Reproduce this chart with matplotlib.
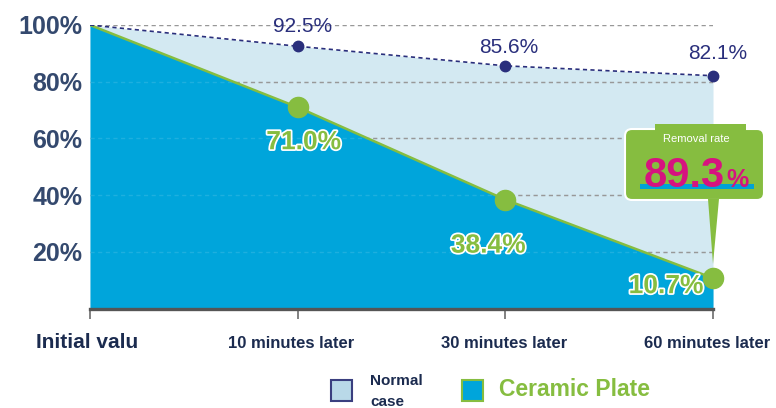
import matplotlib
matplotlib.use('Agg')
import matplotlib.pyplot as plt
from matplotlib.patches import FancyBboxPatch, Rectangle, Polygon
import matplotlib.patheffects as pe

categories = ['Initial valu', '10 minutes later', '30 minutes later', '60 minutes later']
normal_case = [100, 92.5, 85.6, 82.1]
ceramic_plate = [100, 71.0, 38.4, 10.7]
normal_labels = ['92.5%', '85.6%', '82.1%']
ceramic_labels = ['71.0%', '38.4%', '10.7%']
y_ticks = [20, 40, 60, 80, 100]
y_tick_labels = ['20%', '40%', '60%', '80%', '100%']
removal_rate = 89.3

W, H = 776, 408
plt.rcParams['font.family'] = ['Liberation Sans', 'DejaVu Sans']
fig = plt.figure(figsize=(W / 100, H / 100), dpi=100)
fig.patch.set_facecolor('white')


def fx(px):
    return px / W


def fy(py):
    return 1 - py / H


NAVY = '#2a2f7c'
GREEN = '#86bd40'
DARK = '#00a5db'
LIGHT = '#d3e9f2'
LABEL = '#1b2b4f'

ax = fig.add_axes([fx(90), fy(308.5), fx(713) - fx(90), fy(25) - fy(308.5)])
ax.set_facecolor('none')
x = list(range(len(categories)))
ax.set_xlim(0, len(categories) - 1)
ax.set_ylim(0, 100)

ax.fill_between(x, 0, normal_case, color=LIGHT, lw=0, zorder=1)
for t in y_ticks:
    ax.axhline(t, color='#8a8a8a', lw=1, ls=(0, (3, 2.5)), zorder=2)
ax.fill_between(x, 0, ceramic_plate, color=DARK, lw=0, zorder=3)
for t in y_ticks:
    ax.axhline(t, color='#ffffff', lw=1, ls=(0, (3, 2.5)), alpha=0.12, zorder=3.5)
ax.plot(x, ceramic_plate, color=GREEN, lw=1.8, zorder=4)
ax.plot(x, normal_case, color=NAVY, lw=1.2, ls=(0, (2.5, 2)), zorder=4)
ax.plot(x[1:], normal_case[1:], 'o', color=NAVY, ms=7.5, zorder=5, clip_on=False)
ax.plot(x[1:], ceramic_plate[1:], 'o', color=GREEN, ms=14.5, zorder=5, clip_on=False)

normal_off = [(5, 20), (3, 18), (5, 22)]
for xi, yi, lab, off in zip(x[1:], normal_case[1:], normal_labels, normal_off):
    ax.annotate(lab, xy=(xi, yi), xytext=off, textcoords='offset pixels',
                ha='center', va='center', fontsize=15, color=NAVY, zorder=6,
                annotation_clip=False)

ceramic_off = [(6, -35), (-17, -46), (-47, -8)]
for xi, yi, lab, off in zip(x[1:], ceramic_plate[1:], ceramic_labels, ceramic_off):
    ax.annotate(lab, xy=(xi, yi), xytext=off, textcoords='offset pixels',
                ha='center', va='center', fontsize=19, fontweight='bold', color=GREEN,
                zorder=6, annotation_clip=False,
                path_effects=[pe.withStroke(linewidth=2.5, foreground='white')])

for s in ['left', 'top', 'right']:
    ax.spines[s].set_visible(False)
ax.spines['bottom'].set_color('#555555')
ax.spines['bottom'].set_linewidth(2.4)
ax.spines['bottom'].set_zorder(6)

ax.set_xticks(x)
ax.set_xticklabels([])
ax.tick_params(axis='x', length=7, width=1.3, color='#777777', direction='out')
ax.set_yticks(y_ticks)
ax.set_yticklabels(y_tick_labels, fontsize=18, fontweight='bold', color='#34496e')
ax.tick_params(axis='y', length=0, pad=5.5)

xl_off = [-3, -7, -1, -6]
xl_size = [15, 12, 12, 12]
for xi, cat, dx, fs in zip(x, categories, xl_off, xl_size):
    ax.annotate(cat, xy=(xi, 0), xycoords=('data', 'axes fraction'),
                xytext=(dx, -34.5), textcoords='offset pixels',
                ha='center', va='center', fontsize=fs, fontweight='bold',
                color=LABEL, annotation_clip=False)

# overlay in pixel coordinates for callout and legend
ov = fig.add_axes([0, 0, 1, 1])
ov.set_xlim(0, W)
ov.set_ylim(H, 0)
ov.axis('off')
ov.set_zorder(10)

box = FancyBboxPatch((625, 129), 139, 71, boxstyle='round,pad=0,rounding_size=7',
                     fc=GREEN, ec='white', lw=1.5)
ov.add_patch(box)
ov.add_patch(Rectangle((655, 124), 91, 7, fc=GREEN, ec='none'))
ov.add_patch(Polygon([(708, 199), (719, 199), (713, 264)], closed=True, fc=GREEN, ec='none'))
ov.text(696, 139, 'Removal rate', color='white', fontsize=8, ha='center', va='center')
ov.add_patch(Rectangle((640, 184), 114, 5, fc='#00a2d8', ec='none'))
ov.text(725, 187, f'{removal_rate:.1f}', color='#d6137f', fontsize=30, fontweight='bold',
        ha='right', va='baseline')
ov.text(726, 187, '%', color='#d6137f', fontsize=18, fontweight='bold',
        ha='left', va='baseline')

# legend
ov.add_patch(Rectangle((331, 380), 21, 21, fc='#b9d9e8', ec='#3a3f7f', lw=1.5))
ov.text(370, 381, 'Normal', color=LABEL, fontsize=11, fontweight='bold', ha='left', va='center')
ov.text(370, 402, 'case', color=LABEL, fontsize=11, fontweight='bold', ha='left', va='center')
ov.add_patch(Rectangle((462, 380), 21, 21, fc=DARK, ec=GREEN, lw=1.5))
ov.text(499, 390, 'Ceramic Plate', color=GREEN, fontsize=16.5, fontweight='bold',
        ha='left', va='center')

fig.savefig('out.png', dpi=100)
